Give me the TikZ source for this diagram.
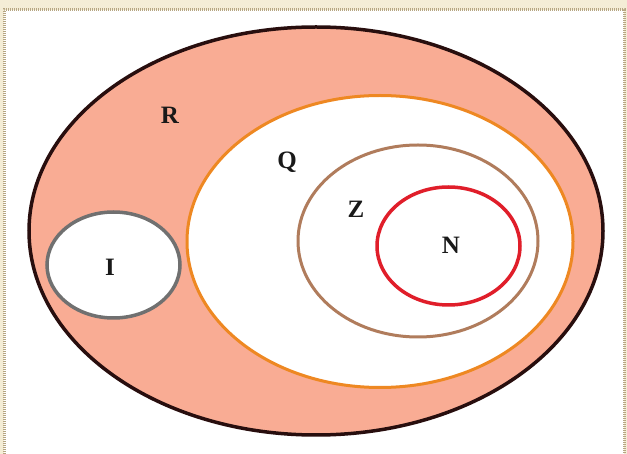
\documentclass[tikz,border=0pt]{standalone}
\usepackage{fontspec}
\setmainfont{Liberation Serif}
\definecolor{cream}{RGB}{244,237,214}
\definecolor{framec}{RGB}{182,166,130}
\definecolor{salmon}{RGB}{249,172,148}
\definecolor{rline}{RGB}{40,14,14}
\definecolor{qline}{RGB}{238,136,34}
\definecolor{zline}{RGB}{176,124,92}
\definecolor{nline}{RGB}{224,30,42}
\definecolor{iline}{RGB}{112,112,112}
\tikzset{
  setlabel/.style={font=\bfseries\fontsize{25}{25}\selectfont, inner sep=0pt, text=black!90},
}
\begin{document}
\begin{tikzpicture}[x=1pt,y=-1pt]
\useasboundingbox (0,0) rectangle (627,454);
\fill[cream] (0,0) rectangle (627,454);
\fill[white] (4,10) rectangle (624,470);
\draw[framec, line width=3pt, dash pattern=on 1.2pt off 0.8pt] (4,470) -- (4,10) -- (624,10) -- (624,470);
% R
\filldraw[fill=salmon, draw=rline, line width=3.5pt] (316,231) ellipse [x radius=287pt, y radius=204pt];
% Q
\filldraw[fill=white, draw=qline, line width=3pt] (380,241.5) ellipse [x radius=193pt, y radius=146pt];
% Z
\draw[zline, line width=3pt] (418,241) ellipse [x radius=120pt, y radius=96pt];
% N
\draw[nline, line width=3.5pt] (448.5,246) ellipse [x radius=71.5pt, y radius=59pt];
% I
\filldraw[fill=white, draw=iline, line width=3.5pt] (113.5,265) ellipse [x radius=66.5pt, y radius=53pt];
% labels
\node[setlabel] (R) at (170,115) {R};
\node[setlabel] (Q) at (287,162) {Q};
\node[setlabel] (Z) at (356,209) {Z};
\node[setlabel] (N) at (451,245) {N};
\node[setlabel] (I) at (110,267) {I};
\end{tikzpicture}
\end{document}
